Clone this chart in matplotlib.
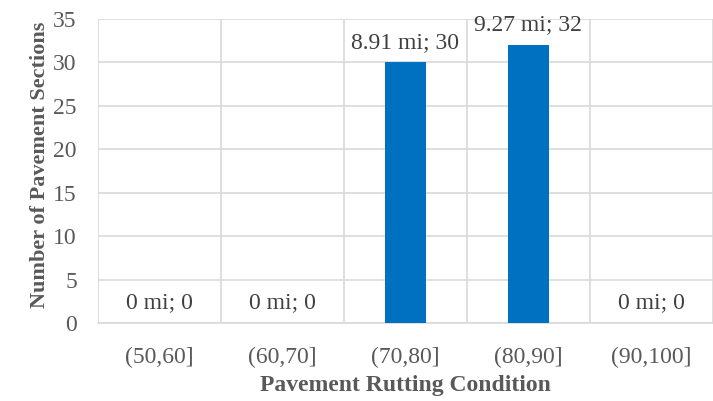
import matplotlib.pyplot as plt
import numpy as np

# Chart data
categories = ['(50,60]', '(60,70]', '(70,80]', '(80,90]', '(90,100]']
sections = [0, 0, 30, 32, 0]
miles = ['0', '0', '8.91', '9.27', '0']

plt.rcParams['font.family'] = ['Liberation Serif', 'DejaVu Serif']

fig = plt.figure(figsize=(7.13, 4.01), dpi=100)
ax = fig.add_axes([0.137, 0.1945, 0.863, 0.758])

x = np.arange(len(categories))
bars = ax.bar(x, sections, width=0.33, color='#0070C0', zorder=3)

# Data labels "miles; count"
labels = [f'{m} mi; {s}' for m, s in zip(miles, sections)]
ax.bar_label(bars, labels=labels, padding=7, fontsize=17, color='#404040')

ax.set_xlim(-0.5, len(categories) - 0.5)
ax.set_ylim(0, 35)
ax.set_yticks(range(0, 36, 5))
ax.set_xticks(x)
ax.set_xticklabels(categories)

# Gridlines: horizontal at ticks, vertical between categories
ax.yaxis.grid(True, color='#d9d9d9', linewidth=1.2, zorder=0)
for b in np.arange(-0.5, len(categories) + 0.5, 1):
    ax.axvline(b, color='#d9d9d9', linewidth=1.2, zorder=0)

for side in ['top', 'right', 'left']:
    ax.spines[side].set_visible(False)
ax.spines['bottom'].set_color('#d9d9d9')
ax.spines['bottom'].set_linewidth(1.2)

ax.tick_params(axis='both', length=0, labelsize=17, colors='#595959')
ax.tick_params(axis='x', pad=17)
ax.tick_params(axis='y', pad=15)

ax.set_xlabel('Pavement Rutting Condition', fontsize=17, fontweight='bold',
              color='#595959', labelpad=5)
ax.set_ylabel('Number of Pavement Sections', fontsize=16, fontweight='bold',
              color='#595959')
ax.yaxis.set_label_coords(-0.077, 0.52)

fig.savefig('out.png', dpi=100)
